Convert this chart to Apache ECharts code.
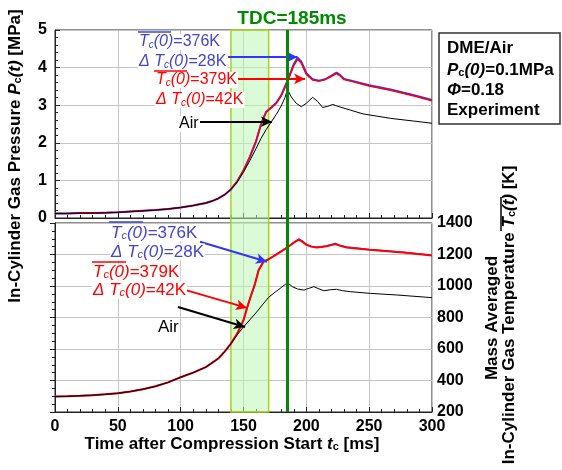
<!DOCTYPE html>
<html>
<head>
<meta charset="utf-8">
<script src="https://cdn.jsdelivr.net/npm/echarts@6/dist/echarts.min.js"></script>
<style>
html,body{margin:0;padding:0;background:#fff;}
#main{width:562px;height:470px;}
</style>
</head>
<body>
<div id="main"></div>
<script>
// pressure traces (top panel), time in ms, pressure in MPa
var tPress = [0,10,20,30,40,50,60,70,80,90,100,110,120,125,130,135,140,145,150,155,160,164,168,172,176,180,184,187,190,193,196,200,205,210,215,219,224,227,230,235,250,267,285,300];
var pRed  = [0.12,0.12,0.13,0.13,0.14,0.15,0.17,0.19,0.21,0.24,0.28,0.33,0.40,0.45,0.52,0.62,0.77,0.98,1.27,1.63,2.05,2.50,2.82,2.93,3.05,3.25,3.55,3.80,4.05,4.22,4.12,3.82,3.67,3.64,3.68,3.75,3.84,3.78,3.68,3.64,3.51,3.40,3.25,3.12];
var pBlue = [0.12,0.12,0.13,0.13,0.14,0.15,0.17,0.19,0.21,0.24,0.28,0.33,0.40,0.45,0.52,0.62,0.76,0.97,1.26,1.62,2.04,2.50,2.82,2.94,3.06,3.26,3.57,3.83,4.09,4.26,4.16,3.85,3.69,3.65,3.69,3.77,3.87,3.80,3.70,3.66,3.53,3.42,3.27,3.14];
var tAir = [0,10,20,30,40,50,60,70,80,90,100,110,120,125,130,135,140,145,150,155,160,164,168,172,176,180,183,185,188,192,196,200,205,209,213,217,221,226,235,245,267,285,300];
var pAir = [0.12,0.12,0.13,0.13,0.14,0.15,0.17,0.19,0.21,0.24,0.28,0.33,0.40,0.45,0.52,0.62,0.76,0.96,1.22,1.52,1.85,2.12,2.35,2.55,2.75,2.98,3.20,3.42,3.22,3.05,2.96,3.05,3.21,3.10,2.94,2.97,3.02,2.96,2.87,2.77,2.65,2.58,2.52];

// mass averaged temperature traces (bottom panel), K
var tTemp = [0,10,20,30,40,50,60,70,80,90,100,110,120,130,135,140,145,150,153,156,159,162,166,170,175,180,186,190,194,197,200,204,208,212,216,223,227,232,250,277,300];
var TRed  = [298,300,303,307,312,319,330,345,363,388,421,450,485,540,583,634,698,783,865,940,1010,1100,1155,1170,1195,1220,1251,1275,1294,1280,1262,1250,1245,1248,1252,1266,1255,1245,1230,1213,1194];
var TBlue = [298,300,303,307,312,319,330,345,363,388,421,450,485,540,583,634,698,783,865,940,1010,1100,1155,1170,1195,1220,1252,1277,1298,1284,1264,1251,1246,1249,1254,1270,1258,1247,1232,1215,1196];
var tAirT = [0,10,20,30,40,50,60,70,80,90,100,110,120,130,135,140,145,150,155,160,165,170,175,180,185,189,193,198,202,206,210,214,219,224,229,235,251,272,300];
var TAir  = [298,300,303,307,312,319,330,345,363,388,421,450,485,540,583,634,690,740,785,830,880,928,960,990,1021,995,981,974,985,996,982,970,976,979,970,964,953,943,926];

var tdc = 185;
var band = [140, 170];
var xTicks = [0, 300, 50];
var pTicks = [0, 5, 1];
var TTicks = [200, 1400, 200];

function pairs(t, v) {
    var out = [];
    for (var i = 0; i < t.length; i++) out.push([t[i], v[i]]);
    return out;
}

var FONT = 'Liberation Sans';
var BLUE = '#3333ff', BLUE_TXT = '#4444cc', RED = '#ff0000', GREEN = '#008a00';
var richBold = {
    bi: {fontStyle:'italic', fontWeight:'bold', fontSize:17, fontFamily:FONT},
    bs: {fontWeight:'bold', fontSize:11, fontFamily:FONT, verticalAlign:'bottom'}
};

function ann(x, y, str, color, size) {
    return {
        type:'text', x:x, y:y, z:50,
        style:{text:str, fill:color, font:size + 'px ' + FONT,
               rich:{it:{fontStyle:'italic', fontSize:size, fontFamily:FONT},
                     sub:{fontStyle:'italic', fontSize:size - 6, fontFamily:FONT, verticalAlign:'bottom'}},
               verticalAlign:'middle', align:'left', backgroundColor:'#fff', padding:[0,1]}
    };
}
function bar(x1, x2, y, color) {
    return {type:'line', z:51, shape:{x1:x1, y1:y, x2:x2, y2:y}, style:{stroke:color, lineWidth:1.5}};
}
function arrow(a, b, color) {
    return [{coord:a, lineStyle:{color:color, width:2, type:'solid'}}, {coord:b}];
}

var axisTxt = {color:'#000', fontWeight:'bold', fontSize:16, fontFamily:FONT};
var split = {show:true, lineStyle:{color:'#c4c4c4', width:1}};
var tickIn = {show:true, inside:true, length:5, lineStyle:{color:'#222'}};

var myChart = echarts.init(document.getElementById('main'));
var option = {
    animation:false,
    backgroundColor:'#fff',
    grid:[
        {left:55, top:30, width:377, height:188, show:true, borderColor:'#222', borderWidth:1},
        {left:55, top:223, width:377, height:189, show:true, borderColor:'#222', borderWidth:1},
        {left:55, top:30, width:377, height:382, show:false}
    ],
    xAxis:[
        {gridIndex:0, type:'value', min:xTicks[0], max:xTicks[1], interval:xTicks[2],
         axisLabel:{show:false}, axisLine:{lineStyle:{color:'#222'}}, axisTick:tickIn,
         minorTick:{show:true, splitNumber:5, length:3, lineStyle:{color:'#222'}},
         splitLine:split},
        {gridIndex:1, type:'value', min:xTicks[0], max:xTicks[1], interval:xTicks[2],
         axisLabel:Object.assign({margin:7}, axisTxt), axisLine:{lineStyle:{color:'#222'}}, axisTick:tickIn,
         minorTick:{show:true, splitNumber:5, length:3, lineStyle:{color:'#222'}},
         splitLine:split},
        {gridIndex:2, type:'value', min:xTicks[0], max:xTicks[1], show:false}
    ],
    yAxis:[
        {gridIndex:0, type:'value', min:pTicks[0], max:pTicks[1], interval:pTicks[2],
         axisLabel:Object.assign({margin:8}, axisTxt), axisLine:{show:true, lineStyle:{color:'#222'}}, axisTick:tickIn,
         minorTick:{show:true, splitNumber:5, length:3, lineStyle:{color:'#222'}},
         splitLine:split},
        {gridIndex:1, type:'value', position:'right', min:TTicks[0], max:TTicks[1], interval:TTicks[2],
         axisLabel:Object.assign({margin:5, formatter:function (v) { return String(v); }}, axisTxt),
         axisLine:{show:true, lineStyle:{color:'#222'}}, axisTick:tickIn,
         minorTick:{show:true, splitNumber:4, length:3, lineStyle:{color:'#222'}},
         splitLine:split},
        {gridIndex:2, type:'value', min:0, max:1, show:false}
    ],
    series:[
        // shaded window and TDC line across both panels
        {type:'line', xAxisIndex:2, yAxisIndex:2, data:[], silent:true, z:1,
         markArea:{silent:true, itemStyle:{color:'rgba(190,245,180,0.55)', borderColor:'#a8d21e', borderWidth:1.5},
                   data:[[{xAxis:band[0]}, {xAxis:band[1]}]]}},
        {type:'line', xAxisIndex:0, yAxisIndex:0, data:pairs(tPress, pBlue), symbol:'none',
         lineStyle:{color:BLUE, width:2}},
        {type:'line', xAxisIndex:0, yAxisIndex:0, data:pairs(tPress, pRed), symbol:'none',
         lineStyle:{color:RED, width:1.5}},
        {type:'line', xAxisIndex:0, yAxisIndex:0, data:pairs(tAir, pAir), symbol:'none',
         lineStyle:{color:'#000', width:1},
         markLine:{silent:true, symbol:['none','arrow'], symbolSize:[8,11], label:{show:false},
                   data:[
                       arrow([137.7, 4.28], [193.0, 4.28], BLUE),
                       arrow([144.8, 3.70], [199.0, 3.70], RED),
                       arrow([115.4, 2.56], [172.7, 2.56], '#000')
                   ]}},
        {type:'line', xAxisIndex:1, yAxisIndex:1, data:pairs(tTemp, TBlue), symbol:'none',
         lineStyle:{color:BLUE, width:1.5}},
        {type:'line', xAxisIndex:1, yAxisIndex:1, data:pairs(tTemp, TRed), symbol:'none',
         lineStyle:{color:RED, width:2}},
        {type:'line', xAxisIndex:1, yAxisIndex:1, data:pairs(tAirT, TAir), symbol:'none',
         lineStyle:{color:'#000', width:1},
         markLine:{silent:true, symbol:['none','arrow'], symbolSize:[8,11], label:{show:false},
                   data:[
                       arrow([115.4, 1281], [168.7, 1154], BLUE),
                       arrow([97.9, 988], [152.8, 861], RED),
                       arrow([97.9, 867], [151.2, 740], '#000')
                   ]}},
        {type:'line', xAxisIndex:2, yAxisIndex:2, data:[], silent:true, z:5,
         markLine:{silent:true, symbol:'none', label:{show:false}, lineStyle:{color:GREEN, width:3, type:'solid'},
                   data:[{xAxis:tdc}]}}
    ],
    graphic:[
        {type:'text', x:292, y:19, style:{text:'TDC=185ms', fill:GREEN, font:'bold 19px ' + FONT, align:'center', verticalAlign:'middle'}},
        {type:'text', x:15, y:156, rotation:Math.PI/2,
         style:{text:'In-Cylinder Gas Pressure {bi|P}{bs|c}{bi|(t)} [MPa]', fill:'#000', font:'bold 17px ' + FONT,
                align:'center', verticalAlign:'middle', rich:richBold}},
        {type:'text', x:232, y:444,
         style:{text:'Time after Compression Start {bi|t}{bs|c} [ms]', fill:'#000', font:'bold 17px ' + FONT,
                align:'center', verticalAlign:'middle', rich:richBold}},
        {type:'text', x:492, y:318, rotation:Math.PI/2,
         style:{text:'Mass Averaged', fill:'#000', font:'bold 17px ' + FONT, align:'center', verticalAlign:'middle'}},
        {type:'text', x:509, y:315, rotation:Math.PI/2,
         style:{text:'In-Cylinder Gas Temperature {bi|T}{bs|c}{bi|(t)} [K]', fill:'#000', font:'bold 17px ' + FONT,
                align:'center', verticalAlign:'middle', rich:richBold}},
        {type:'line', shape:{x1:501, y1:197, x2:501, y2:231}, style:{stroke:'#000', lineWidth:1.5}},
        {type:'rect', shape:{x:439, y:33, width:121, height:91}, style:{fill:'#fff', stroke:'#333', lineWidth:1.5}},
        {type:'text', x:447, y:48, style:{text:'DME/Air', fill:'#000', font:'bold 17px ' + FONT, verticalAlign:'middle'}},
        {type:'text', x:447, y:70,
         style:{text:'{bi|P}{bs|c}{bi|(0)}=0.1MPa', fill:'#000', font:'bold 17px ' + FONT, verticalAlign:'middle', rich:richBold}},
        {type:'text', x:447, y:90,
         style:{text:'{bi|\u03a6}=0.18', fill:'#000', font:'bold 17px ' + FONT, verticalAlign:'middle', rich:richBold}},
        {type:'text', x:447, y:110, style:{text:'Experiment', fill:'#000', font:'bold 17px ' + FONT, verticalAlign:'middle'}},

        ann(138, 42, '{it|T}{sub|c}{it|(0)}=376K', BLUE_TXT, 16),
        ann(138, 62, '{it|\u0394 T}{sub|c}{it|(0)}=28K', BLUE_TXT, 16),
        ann(155, 80, '{it|T}{sub|c}{it|(0)}=379K', RED, 16),
        ann(155, 100, '{it|\u0394 T}{sub|c}{it|(0)}=42K', RED, 16),
        ann(178, 124, 'Air', '#000', 16),
        bar(138, 171, 32, BLUE_TXT),
        bar(154, 187, 71, RED),

        ann(110, 233, '{it|T}{sub|c}{it|(0)}=376K', BLUE_TXT, 17),
        ann(110, 252, '{it|\u0394 T}{sub|c}{it|(0)}=28K', BLUE_TXT, 17),
        ann(92, 272, '{it|T}{sub|c}{it|(0)}=379K', RED, 17),
        ann(92, 290, '{it|\u0394 T}{sub|c}{it|(0)}=42K', RED, 17),
        ann(157, 327, 'Air', '#000', 17),
        bar(109, 143, 222, BLUE_TXT),
        bar(92, 126, 262, RED)
    ]
};
myChart.setOption(option);
</script>
</body>
</html>
